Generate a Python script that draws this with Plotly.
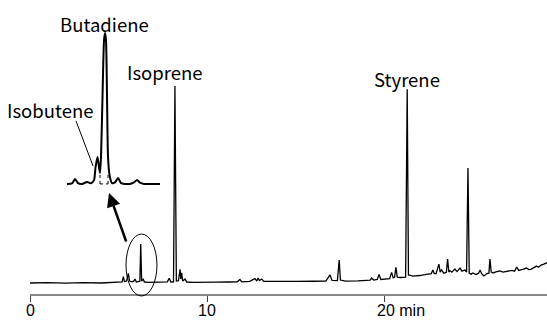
import plotly.graph_objects as go

# ---- main chromatogram (time in min, relative signal) ----
main_time = [0, 1.0, 2.0, 3.0, 4.0, 4.6, 5.0, 5.2, 5.27, 5.33, 5.45, 5.55, 5.62, 5.75, 5.85, 5.93, 6.0,
             6.12, 6.2, 6.25, 6.3, 6.39, 6.46, 6.7, 7.0, 7.4, 7.75, 7.86, 7.95, 8.1, 8.18, 8.26, 8.38,
             8.47, 8.51, 8.56, 8.62, 8.75, 8.85, 9.2, 9.8, 10.5, 11.2, 11.7, 11.85, 11.95, 12.4, 12.7,
             12.8, 12.87, 12.95, 13.08, 13.2, 14.0, 15.0, 16.0, 16.7, 16.93, 17.05, 17.35, 17.45, 17.52,
             17.8, 18.5, 19.0, 19.2, 19.28, 19.4, 19.6, 19.7, 19.8, 20.1, 20.3, 20.41, 20.5, 20.58,
             20.65, 20.73, 20.9, 21.2, 21.29, 21.36, 21.44, 21.6, 21.82, 22.0, 22.29, 22.5, 22.65,
             22.74, 22.82, 22.92, 23.08, 23.15, 23.23, 23.36, 23.5, 23.57, 23.64, 23.7, 23.81, 23.98,
             24.1, 24.27, 24.38, 24.55, 24.64, 24.72, 24.79, 24.9, 25.0, 25.17, 25.32, 25.4, 25.5,
             25.62, 25.79, 25.9, 25.96, 26.03, 26.13, 26.3, 26.52, 26.7, 26.98, 27.2, 27.35, 27.47,
             27.58, 27.7, 27.85, 28.03, 28.15, 28.27, 28.45, 28.59, 28.7, 28.84, 29.0, 29.18]
main_signal = [0, 0.2, -0.1, 0.2, 0, 0.3, 0.4, 0.6, 3.2, 0.8, 1.0, 4.9, 1.0, 0.6, 0.9, 2.0, 0.5,
               0.8, 0.9, 19.8, 1.0, 1.9, 0.5, 0.3, 0.4, 0.2, 0.6, 2.4, 0.5, 0.6, 100, 1.0, 1.2,
               7.0, 2.0, 5.2, 1.0, 2.0, 0.5, 0.3, 0.2, 0.4, 0.5, 0.6, 1.8, 0.6, 0.8, 2.2,
               1.0, 2.5, 1.2, 2.0, 0.8, 0.7, 0.8, 0.9, 1.0, 4.1, 1.3, 1.2, 11.7, 1.5,
               1.0, 1.1, 1.4, 1.5, 2.5, 1.5, 1.8, 4.4, 1.8, 2.0, 2.2, 5.4, 2.6, 3.0,
               8.0, 3.0, 2.8, 3.0, 98.3, 4.0, 4.0, 3.5, 3.6, 3.8, 4.2, 4.6, 4.8,
               6.6, 4.8, 4.8, 9.6, 5.5, 6.6, 5.0, 5.4, 12.2, 5.6, 6.3, 5.5, 7.1,
               5.8, 7.6, 6.0, 6.6, 5.6, 58.4, 5.0, 4.5, 5.1, 4.3, 5.0, 6.6, 4.6,
               3.6, 4.8, 5.0, 12.2, 5.5, 5.1, 5.6, 6.1, 5.5, 5.8, 6.4, 6.0, 8.1,
               6.4, 6.6, 7.0, 7.6, 6.8, 6.9, 7.8, 8.6, 8.0, 9.1, 9.6, 10.3]

# ---- inset: enlarged isobutene / butadiene region ----
inset_time = [5.87, 5.92, 5.95, 5.98, 6.02, 6.07, 6.11, 6.14, 6.155, 6.175, 6.19, 6.20, 6.21, 6.225,
              6.24, 6.25, 6.26, 6.27, 6.28, 6.295, 6.32, 6.35, 6.38, 6.41, 6.45, 6.50, 6.54, 6.57,
              6.60, 6.64, 6.80]
inset_signal = [0, 0.3, 3.3, 0.5, 0, 1.3, 0.4, 2.5, 11, 17.9, 11, 7.3, 18, 58, 95, 100, 95, 58, 18,
                6, 0.5, 1, 4, 0.5, 0, 0, 1, 2.6, 0.8, 0, 0]

tick_vals = [0, 10, 20]
tick_text = ["0", "10", "20 min"]

FONT = "Noto Sans CJK JP"
TICK_FONT = "Liberation Sans"
LABEL_SIZE = 18.5
TICK_SIZE = 16

fig = go.Figure()
fig.add_trace(go.Scatter(x=main_time, y=main_signal, mode="lines",
                         line=dict(color="black", width=1.3), hoverinfo="skip"))
fig.add_trace(go.Scatter(x=inset_time, y=inset_signal, mode="lines", xaxis="x2", yaxis="y2",
                         line=dict(color="black", width=2, shape="spline", smoothing=0.6),
                         hoverinfo="skip"))

fig.update_layout(
    width=547, height=320,
    margin=dict(l=30, r=0, t=0, b=26, autoexpand=False),
    paper_bgcolor="white", plot_bgcolor="white",
    showlegend=False,
    font=dict(family=FONT, size=LABEL_SIZE, color="black"),
    xaxis=dict(range=[0, 29.18], showgrid=False, zeroline=False,
               showline=True, linecolor="#8a8a8a", linewidth=2,
               ticks="outside", ticklen=6, tickwidth=1, tickcolor="#444444",
               tickvals=tick_vals, showticklabels=False),
    yaxis=dict(range=[-5.58, 143.66], visible=False),
    xaxis2=dict(domain=[0.0716, 0.2515], range=[5.87, 6.80], anchor="y2", visible=False),
    yaxis2=dict(domain=[0.354, 0.905], range=[-3.97, 103.3], anchor="x2", visible=False),
)

# tick labels, placed as text under the axis so they fit the short bottom margin
for val, txt in zip(tick_vals, tick_text):
    left = txt.endswith("min")
    fig.add_annotation(x=val - 0.47 if left else val, y=-26 / 294, xref="x", yref="paper",
                       text=txt, showarrow=False,
                       xanchor="left" if left else "center", yanchor="bottom",
                       borderpad=0, font=dict(family=TICK_FONT, size=TICK_SIZE, color="black"))

# peak labels
for txt, x, y in [("Butadiene", 4.18, 131.5), ("Isobutene", 1.13, 87.8),
                  ("Isoprene", 7.62, 107.3), ("Styrene", 21.28, 103.6)]:
    fig.add_annotation(x=x, y=y, xref="x", yref="y", text=txt, showarrow=False,
                       font=dict(family=FONT, size=LABEL_SIZE, color="black"))

# arrow from circled peak to inset
fig.add_annotation(x=4.46, y=45.7, xref="x", yref="y", ax=17.7, ay=50, text="",
                   showarrow=True, arrowhead=2, arrowsize=1.1, arrowwidth=2.5,
                   arrowcolor="black", standoff=0)

# ellipse around the butadiene peak
fig.add_shape(type="circle", xref="paper", yref="paper", x0=0.1857, x1=0.2456,
              y0=-0.0068, y1=0.204, line=dict(color="black", width=1))

# isobutene leader line
fig.add_shape(type="line", xref="x2", yref="y2", x0=5.96, y0=41.7, x1=6.13, y1=11.9,
              line=dict(color="black", width=1))

# dotted drop lines in inset
for xv in [6.20, 6.28]:
    fig.add_shape(type="line", xref="x2", yref="y2", x0=xv, x1=xv, y0=0, y1=7.3,
                  line=dict(color="black", width=1, dash="dot"))
fig.add_shape(type="line", xref="x2", yref="y2", x0=6.20, x1=6.28, y0=0, y1=0,
              line=dict(color="black", width=1, dash="dot"))

fig.write_html("out.html", config={"displayModeBar": False},
               post_script="document.body.style.margin='0';document.body.style.overflow='hidden';")
